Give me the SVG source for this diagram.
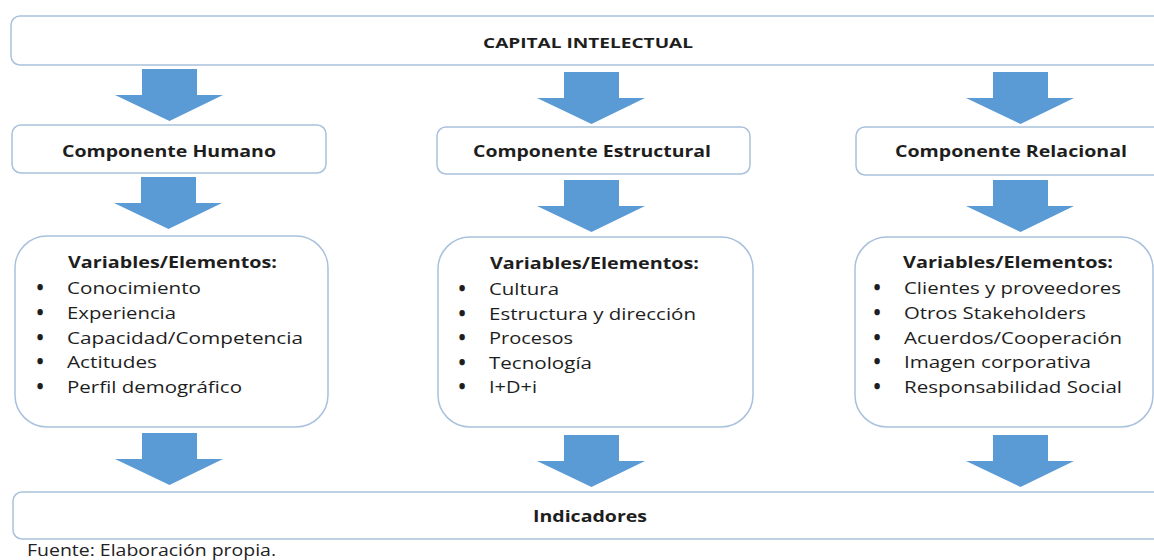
<svg xmlns="http://www.w3.org/2000/svg" width="1154" height="560" viewBox="0 0 1154 560">
  <style>
    .box { fill: #ffffff; stroke: #A9C1DC; stroke-width: 1.5; }
    .arrow { fill: #5B9BD5; }
    .head { font-family: "Open Sans", "Liberation Sans", sans-serif; font-weight: bold; fill: #1E1E1E; }
    .item { font-family: "Open Sans", "Liberation Sans", sans-serif; font-size: 16.5px; fill: #1E1E1E; }
    .dot { font-size: 17px; font-weight: 800; text-anchor: middle; }
    .title { font-size: 15px; }
    .comp { font-size: 16px; }
    .var { font-size: 16.5px; }
    .note { font-family: "Open Sans", "Liberation Sans", sans-serif; font-size: 16px; fill: #222222; }
  </style>
  <defs>
    <!-- block arrow pointing down, origin at the top-left of the shaft -->
    <path id="down" d="M0,0 H55 V26 H81 L27.5,52 L-27,26 H0 Z"/>
  </defs>

  <rect width="1154" height="560" fill="#ffffff"/>

  <g id="connectors">
    <use href="#down" class="arrow" x="142" y="69"/>
    <use href="#down" class="arrow" x="564" y="72"/>
    <use href="#down" class="arrow" x="993" y="72"/>
    <use href="#down" class="arrow" x="141" y="177"/>
    <use href="#down" class="arrow" x="564" y="180"/>
    <use href="#down" class="arrow" x="993" y="180"/>
    <use href="#down" class="arrow" x="142" y="433"/>
    <use href="#down" class="arrow" x="564" y="435"/>
    <use href="#down" class="arrow" x="993" y="435"/>
  </g>

  <g id="capital">
    <rect class="box" x="11" y="16" width="1170" height="49" rx="9"/>
    <text class="head title" x="483" y="48" textLength="210" lengthAdjust="spacingAndGlyphs">CAPITAL INTELECTUAL</text>
  </g>

  <g id="comp-humano">
    <rect class="box" x="12" y="125" width="314" height="48" rx="9"/>
    <text class="head comp" x="62" y="157" textLength="214" lengthAdjust="spacingAndGlyphs">Componente Humano</text>
  </g>
  <g id="comp-estructural">
    <rect class="box" x="437" y="127" width="313" height="47" rx="9"/>
    <text class="head comp" x="473" y="157" textLength="238" lengthAdjust="spacingAndGlyphs">Componente Estructural</text>
  </g>
  <g id="comp-relacional">
    <rect class="box" x="856" y="127" width="320" height="48" rx="9"/>
    <text class="head comp" x="895" y="157" textLength="232" lengthAdjust="spacingAndGlyphs">Componente Relacional</text>
  </g>

  <g id="var-humano">
    <rect class="box" x="15" y="236" width="313" height="191" rx="32"/>
    <text class="head var" x="68" y="268" textLength="209" lengthAdjust="spacingAndGlyphs">Variables/Elementos:</text>
    <g class="item">
      <text class="dot" x="40" y="294">•</text><text x="67" y="294" textLength="134" lengthAdjust="spacingAndGlyphs">Conocimiento</text>
      <text class="dot" x="40" y="318.5">•</text><text x="67" y="318.5" textLength="109" lengthAdjust="spacingAndGlyphs">Experiencia</text>
      <text class="dot" x="40" y="343.5">•</text><text x="67" y="343.5" textLength="236" lengthAdjust="spacingAndGlyphs">Capacidad/Competencia</text>
      <text class="dot" x="40" y="368">•</text><text x="67" y="368" textLength="90" lengthAdjust="spacingAndGlyphs">Actitudes</text>
      <text class="dot" x="40" y="393">•</text><text x="67" y="393" textLength="175" lengthAdjust="spacingAndGlyphs">Perfil demográfico</text>
    </g>
  </g>

  <g id="var-estructural">
    <rect class="box" x="438" y="237" width="315" height="190" rx="32"/>
    <text class="head var" x="490" y="269" textLength="209" lengthAdjust="spacingAndGlyphs">Variables/Elementos:</text>
    <g class="item">
      <text class="dot" x="462" y="295">•</text><text x="489" y="295" textLength="70" lengthAdjust="spacingAndGlyphs">Cultura</text>
      <text class="dot" x="462" y="319.5">•</text><text x="489" y="319.5" textLength="207" lengthAdjust="spacingAndGlyphs">Estructura y dirección</text>
      <text class="dot" x="462" y="344">•</text><text x="489" y="344" textLength="84" lengthAdjust="spacingAndGlyphs">Procesos</text>
      <text class="dot" x="462" y="368.5">•</text><text x="489" y="368.5" textLength="103" lengthAdjust="spacingAndGlyphs">Tecnología</text>
      <text class="dot" x="462" y="393">•</text><text x="489" y="393" textLength="48" lengthAdjust="spacingAndGlyphs">I+D+i</text>
    </g>
  </g>

  <g id="var-relacional">
    <rect class="box" x="855" y="237" width="298" height="190" rx="32"/>
    <text class="head var" x="903" y="268" textLength="210" lengthAdjust="spacingAndGlyphs">Variables/Elementos:</text>
    <g class="item">
      <text class="dot" x="877" y="294">•</text><text x="904" y="294" textLength="217" lengthAdjust="spacingAndGlyphs">Clientes y proveedores</text>
      <text class="dot" x="877" y="318.5">•</text><text x="904" y="318.5" textLength="182" lengthAdjust="spacingAndGlyphs">Otros Stakeholders</text>
      <text class="dot" x="877" y="343.5">•</text><text x="904" y="343.5" textLength="218" lengthAdjust="spacingAndGlyphs">Acuerdos/Cooperación</text>
      <text class="dot" x="877" y="368">•</text><text x="904" y="368" textLength="187" lengthAdjust="spacingAndGlyphs">Imagen corporativa</text>
      <text class="dot" x="877" y="393">•</text><text x="904" y="393" textLength="218" lengthAdjust="spacingAndGlyphs">Responsabilidad Social</text>
    </g>
  </g>

  <g id="indicadores">
    <rect class="box" x="13" y="492" width="1170" height="47" rx="9"/>
    <text class="head comp" x="533" y="522" textLength="114" lengthAdjust="spacingAndGlyphs">Indicadores</text>
  </g>

  <text class="note" x="27" y="556" textLength="249" lengthAdjust="spacingAndGlyphs">Fuente: Elaboración propia.</text>
</svg>
